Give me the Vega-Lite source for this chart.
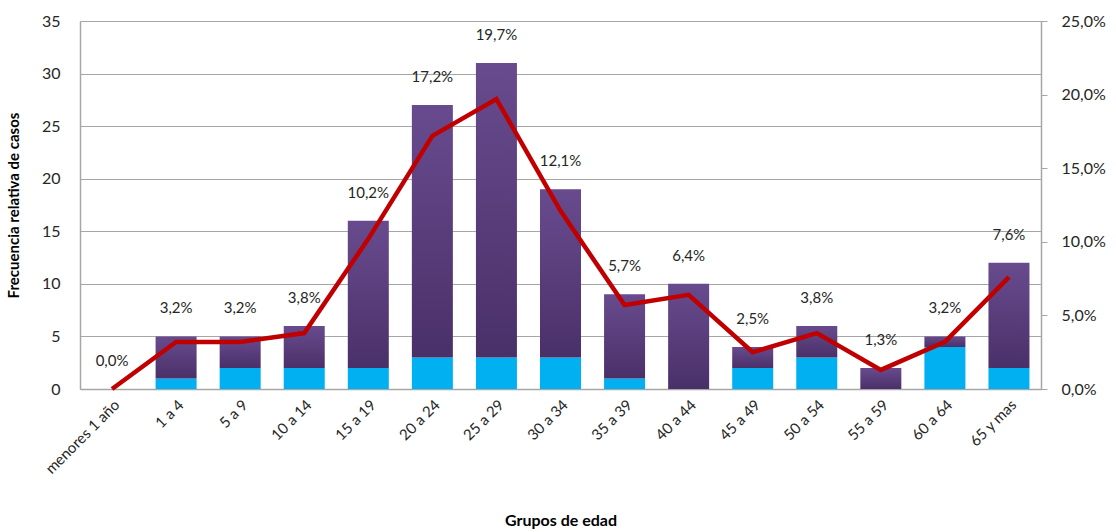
{
  "$schema": "https://vega.github.io/schema/vega-lite/v6.json",
  "width": 961,
  "height": 368,
  "autosize": {"type": "none"},
  "padding": {"left": 80, "top": 21, "right": 75, "bottom": 143},
  "background": "white",
  "config": {
    "view": {"stroke": null},
    "font": "Lato",
    "axis": {"labelFont": "Lato", "titleFont": "Lato"},
    "locale": {
      "number": {"decimal": ",", "thousands": ".", "grouping": [3], "currency": ["", " €"]}
    }
  },
  "data": {
    "values": [
      {"grupo": "menores 1 año", "azul": 0, "total": 0, "pct": 0.000},
      {"grupo": "1 a 4", "azul": 1, "total": 5, "pct": 0.032},
      {"grupo": "5 a 9", "azul": 2, "total": 5, "pct": 0.032},
      {"grupo": "10 a 14", "azul": 2, "total": 6, "pct": 0.038},
      {"grupo": "15 a 19", "azul": 2, "total": 16, "pct": 0.102},
      {"grupo": "20 a 24", "azul": 3, "total": 27, "pct": 0.172},
      {"grupo": "25 a 29", "azul": 3, "total": 31, "pct": 0.197},
      {"grupo": "30 a 34", "azul": 3, "total": 19, "pct": 0.121},
      {"grupo": "35 a 39", "azul": 1, "total": 9, "pct": 0.057},
      {"grupo": "40 a 44", "azul": 0, "total": 10, "pct": 0.064},
      {"grupo": "45 a 49", "azul": 2, "total": 4, "pct": 0.025},
      {"grupo": "50 a 54", "azul": 3, "total": 6, "pct": 0.038},
      {"grupo": "55 a 59", "azul": 0, "total": 2, "pct": 0.013},
      {"grupo": "60 a 64", "azul": 4, "total": 5, "pct": 0.032},
      {"grupo": "65 y mas", "azul": 2, "total": 12, "pct": 0.076}
    ]
  },
  "encoding": {
    "x": {
      "field": "grupo",
      "type": "ordinal",
      "sort": null,
      "scale": {"paddingInner": 0.36, "paddingOuter": 0.18},
      "axis": {
        "title": "Grupos de edad",
        "titleFontSize": 16,
        "titleFontWeight": "bold",
        "titleColor": "#000000",
        "titlePadding": 36,
        "labelAngle": -45,
        "labelFontSize": 15,
        "labelColor": "#262626",
        "labelPadding": 8,
        "ticks": false,
        "domainColor": "#a6a6a6",
        "domainWidth": 1.5
      }
    }
  },
  "layer": [
    {
      "encoding": {
        "y": {
          "field": "azul",
          "type": "quantitative",
          "scale": {"domain": [0, 35]},
          "axis": {
            "title": "Frecuencia relativa de casos",
            "titleFontSize": 15,
            "titleFontWeight": "bold",
            "titleColor": "#000000",
            "titlePadding": 20,
            "values": [0, 5, 10, 15, 20, 25, 30, 35],
            "labelFontSize": 16,
            "labelColor": "#262626",
            "labelPadding": 20,
            "ticks": false,
            "grid": true,
            "gridColor": "#a6a6a6",
            "gridWidth": 1.2,
            "domainColor": "#a6a6a6",
            "domainWidth": 1.5
          }
        }
      },
      "layer": [
        {
          "mark": {"type": "bar", "color": "#00b0f0"},
          "encoding": {}
        },
        {
          "mark": {
            "type": "bar",
            "color": {
              "gradient": "linear",
              "x1": 0, "y1": 0, "x2": 0, "y2": 1,
              "stops": [
                {"offset": 0, "color": "#684b8e"},
                {"offset": 1, "color": "#4a3069"}
              ]
            }
          },
          "encoding": {
            "y2": {"field": "total"}
          }
        },
        {
          "mark": {"type": "text", "fontSize": 15, "color": "#262626", "dy": -28, "baseline": "middle"},
          "encoding": {
            "y": {"field": "total", "type": "quantitative"},
            "text": {"field": "pct", "type": "quantitative", "format": ".1%"}
          }
        }
      ]
    },
    {
      "mark": {"type": "line", "color": "#c00000", "strokeWidth": 4.5},
      "encoding": {
        "y": {
          "field": "pct",
          "type": "quantitative",
          "scale": {"domain": [0, 0.25]},
          "axis": {
            "orient": "right",
            "title": null,
            "values": [0, 0.05, 0.1, 0.15, 0.2, 0.25],
            "format": ".1%",
            "labelFontSize": 16,
            "labelColor": "#262626",
            "labelPadding": 14,
            "ticks": true,
            "tickSize": 6,
            "tickColor": "#a6a6a6",
            "domainColor": "#a6a6a6",
            "domainWidth": 1.5,
            "grid": false
          }
        }
      }
    }
  ],
  "resolve": {"scale": {"y": "independent"}}
}
